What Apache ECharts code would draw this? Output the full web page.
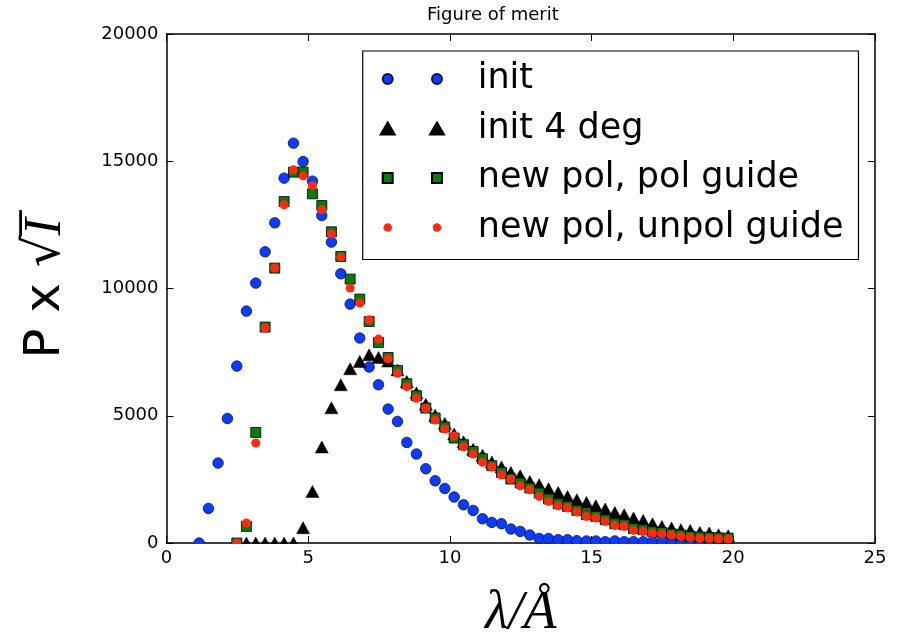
<!DOCTYPE html>
<html>
<head>
<meta charset="utf-8">
<title>Figure of merit</title>
<script src="https://cdn.jsdelivr.net/npm/echarts@6/dist/echarts.min.js"></script>
<style>
  html, body { margin: 0; padding: 0; background: #fff; }
  #chart { width: 901px; height: 637px; }
</style>
</head>
<body>
<div id="chart"></div>
<script>
// Wavelength grid (Å)
const lambdaA = [
  1.15, 1.48, 1.82, 2.15, 2.48, 2.82, 3.15, 3.48, 3.82, 4.15,
  4.48, 4.82, 5.15, 5.48, 5.82, 6.15, 6.48, 6.82, 7.15, 7.48,
  7.82, 8.15, 8.48, 8.82, 9.15, 9.48, 9.82, 10.15, 10.48, 10.82,
  11.15, 11.48, 11.82, 12.15, 12.48, 12.82, 13.15, 13.48, 13.82, 14.15,
  14.48, 14.82, 15.15, 15.48, 15.82, 16.15, 16.48, 16.82, 17.15, 17.48,
  17.82, 18.15, 18.48, 18.82, 19.15, 19.48, 19.82
];

// init: starts at lambdaA[0]
const initVals = [
  0, 1359, 3142, 4894, 6952, 9112, 10212, 11441, 12580, 14336,
  15711, 14988, 14218, 12867, 11822, 10577, 9387, 8052, 6913, 6217,
  5263, 4776, 3951, 3496, 2918, 2447, 2144, 1807, 1504, 1280,
  954, 809, 758, 550, 456, 314, 181, 181, 130, 130,
  90, 80, 80, 50, 80, 50, 50, 50, 50, 25,
  10, 5, 5, 0, 0, 0, 0
];

// init 4 deg: starts at lambdaA[5]
const init4Start = 5;
const init4Vals = [
  0, 0, 0, 0, 0, 0, 600, 2027, 3770, 5314,
  6217, 6846, 7133, 7396, 7290, 7150, 6800, 6350, 5900, 5450,
  5020, 4700, 4280, 3980, 3680, 3450, 3180, 2990, 2773, 2643,
  2420, 2290, 2133, 1987, 1830, 1701, 1595, 1465, 1335, 1202,
  1111, 982, 888, 758, 652, 589, 522, 495, 416, 393,
  326, 287
];

// new pol, pol guide: starts at lambdaA[4]
const polStart = 4;
const polGuideVals = [
  0, 652, 4344, 8484, 10801, 13417, 14572, 14572, 13720, 13260,
  12227, 11257, 10369, 9584, 8704, 7879, 7290, 6779, 6257, 5785,
  5302, 4910, 4556, 4124, 3861, 3598, 3311, 3036, 2773, 2514,
  2357, 2160, 1964, 1728, 1543, 1437, 1280, 1111, 1045, 915,
  758, 719, 573, 522, 444, 416, 353, 314, 259, 236,
  220, 200, 190
];

// new pol, unpol guide: starts at lambdaA[4]
const unpolStart = 4;
const unpolGuideVals = [
  0, 785, 3928, 8444, 10801, 13288, 14662, 14427, 14046, 13091,
  12149, 11233, 10016, 9427, 8771, 8012, 7239, 6668, 6142, 5686,
  5293, 4833, 4479, 4204, 3784, 3497, 3171, 2998, 2672, 2514,
  2251, 2094, 1830, 1634, 1465, 1375, 1218, 1045, 982, 848,
  691, 652, 495, 456, 393, 365, 314, 259, 220, 181,
  181, 169, 157
];

const seriesNames = ['init', 'init 4 deg', 'new pol, pol guide', 'new pol, unpol guide'];
const xTicks = { min: 0, max: 25, step: 5 };
const yTicks = { min: 0, max: 20000, step: 5000 };

function pairs(start, vals) {
  return vals.map((v, i) => [lambdaA[start + i], v]);
}

// plot frame in pixels
const G = { left: 166.5, right: 26, top: 34, bottom: 94 };
const W = 901, H = 637;

const sans = 'DejaVu Sans';
const serif = 'Liberation Serif';

// legend icons: two markers side by side; the leading/trailing moves fix the icon box
const iconBox = 'M0 0 M92 14';
function circles(r) {
  const c1 = 7, c2 = 56.3, cy = 7;
  const one = (c) => `M${c - r} ${cy} a${r} ${r} 0 1 0 ${2 * r} 0 a${r} ${r} 0 1 0 ${-2 * r} 0 Z`;
  return 'path://' + iconBox + ' ' + one(c1) + ' ' + one(c2);
}
function triangles(w, h) {
  const c1 = 7, c2 = 56.3, cy = 7;
  const one = (c) => `M${c} ${cy - h / 2} L${c + w / 2} ${cy + h / 2} L${c - w / 2} ${cy + h / 2} Z`;
  return 'path://' + iconBox + ' ' + one(c1) + ' ' + one(c2);
}
function squares(s) {
  const c1 = 7, c2 = 56.3, cy = 7;
  const one = (c) => `M${c - s / 2} ${cy - s / 2} h${s} v${s} h${-s} Z`;
  return 'path://' + iconBox + ' ' + one(c1) + ' ' + one(c2);
}

const axisCommon = {
  type: 'value',
  axisLine: { show: true, onZero: false, lineStyle: { color: '#000', width: 1.5 } },
  axisTick: { show: true, inside: true, length: 7, lineStyle: { color: '#000', width: 1 } },
  splitLine: { show: false },
  minorTick: { show: false }
};

const chart = echarts.init(document.getElementById('chart'), null, { renderer: 'canvas' });

chart.setOption({
  backgroundColor: '#fff',
  animation: false,
  title: {
    text: 'Figure of merit',
    left: 427, top: 6, padding: 0,
    textStyle: { fontFamily: sans, fontSize: 18, fontWeight: 'normal', color: '#000' }
  },
  grid: {
    left: G.left, right: G.right, top: G.top, bottom: G.bottom,
    containLabel: false, outerBoundsMode: 'none'
  },
  xAxis: [
    Object.assign({}, axisCommon, {
      position: 'bottom', min: xTicks.min, max: xTicks.max, interval: xTicks.step,
      axisLabel: { show: true, color: '#000', fontFamily: sans, fontSize: 18, margin: 6 },
      name: '{m|λ/Å}',
      nameLocation: 'middle', nameGap: 44,
      nameTextStyle: { rich: { m: { fontFamily: serif, fontStyle: 'italic', fontSize: 54, color: '#000' } } }
    }),
    Object.assign({}, axisCommon, {
      position: 'top', min: xTicks.min, max: xTicks.max, interval: xTicks.step,
      axisLabel: { show: false }
    })
  ],
  yAxis: [
    Object.assign({}, axisCommon, {
      position: 'left', min: yTicks.min, max: yTicks.max, interval: yTicks.step,
      axisLabel: { show: true, color: '#000', fontFamily: sans, fontSize: 18, margin: 8,
        formatter: (v) => String(v) },
      name: '{a|P x }{b|√}{c|I̅}',
      nameLocation: 'middle', nameRotate: 90, nameGap: 94,
      nameTextStyle: {
        rich: {
          a: { fontFamily: sans, fontSize: 50, color: '#000' },
          b: { fontFamily: sans, fontSize: 50, color: '#000' },
          c: { fontFamily: serif, fontStyle: 'italic', fontSize: 52, color: '#000' }
        }
      }
    }),
    Object.assign({}, axisCommon, {
      position: 'right', min: yTicks.min, max: yTicks.max, interval: yTicks.step,
      axisLabel: { show: false }
    })
  ],
  legend: {
    show: true,
    orient: 'vertical',
    left: 362.7, top: 51,
    padding: [10, 15, 14, 17],
    itemGap: 13.5,
    itemWidth: 92, itemHeight: 14,
    backgroundColor: '#fff',
    borderColor: '#000', borderWidth: 1.2, borderRadius: 0,
    textStyle: { fontFamily: sans, fontSize: 35, color: '#000', lineHeight: 36 },
    selectedMode: false,
    data: [
      { name: seriesNames[0], icon: circles(5) },
      { name: seriesNames[1], icon: triangles(14, 12) },
      { name: seriesNames[2], icon: squares(10) },
      { name: seriesNames[3], icon: circles(4.3) }
    ]
  },
  graphic: [
    // trims the lower half of markers that sit on the zero line
    {
      type: 'rect', z: 50, silent: true,
      shape: { x: G.left + 1, y: H - G.bottom + 0.9, width: W - G.left - G.right - 2, height: 6.4 },
      style: { fill: '#fff' }
    }
  ],
  series: [
    {
      name: seriesNames[0], type: 'scatter',
      data: pairs(0, initVals),
      symbol: 'circle', symbolSize: 10.5,
      itemStyle: { color: '#0a3cff', borderColor: '#101040', borderWidth: 0.8, opacity: 1 },
      emphasis: { disabled: true }
    },
    {
      name: seriesNames[1], type: 'scatter',
      data: pairs(init4Start, init4Vals),
      symbol: 'triangle', symbolSize: [13, 12],
      itemStyle: { color: '#000', borderColor: '#000', borderWidth: 0.5, opacity: 1 },
      emphasis: { disabled: true }
    },
    {
      name: seriesNames[2], type: 'scatter',
      data: pairs(polStart, polGuideVals),
      symbol: 'rect', symbolSize: 10,
      itemStyle: { color: '#0a7a0a', borderColor: '#000', borderWidth: 0.8, opacity: 1 },
      emphasis: { disabled: true }
    },
    {
      name: seriesNames[3], type: 'scatter',
      data: pairs(unpolStart, unpolGuideVals),
      symbol: 'circle', symbolSize: 9,
      itemStyle: { color: '#ff2a10', borderColor: '#ff2a10', borderWidth: 0, opacity: 1 },
      emphasis: { disabled: true }
    }
  ]
});
</script>
</body>
</html>
